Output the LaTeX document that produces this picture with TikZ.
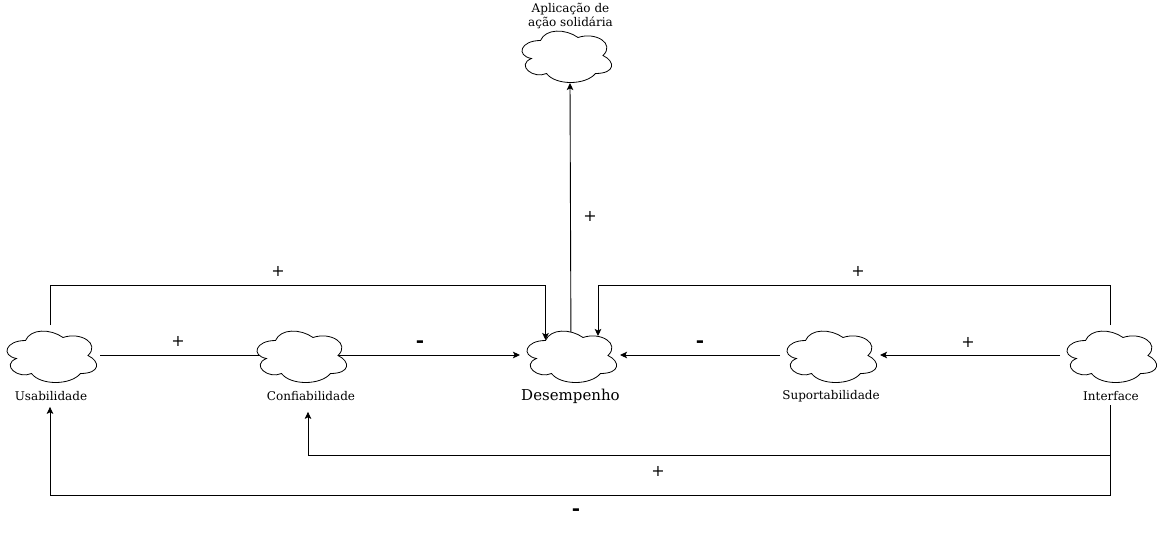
\documentclass[tikz,border=0pt]{standalone}
\usepackage{fontspec}
\setmainfont{DejaVu Serif}
\usetikzlibrary{arrows.meta}
\newcommand{\cloudoutline}[1]{%
  \draw[cloudline,shift={([xshift=.5pt,yshift=-.5pt]#1.north west)}] (25,15) .. controls (5,15) and (0,30) .. (16,33)
        .. controls (0,39.6) and (18,54) .. (31,48)
        .. controls (40,60) and (70,60) .. (80,48)
        .. controls (100,48) and (100,36) .. (87.5,30)
        .. controls (100,18) and (80,6) .. (62.5,12)
        .. controls (50,3) and (30,3) .. (25,15) -- cycle;}
\tikzset{
  x=1pt,y=-1pt,
  cloudbox/.style={minimum width=100pt,minimum height=60pt,inner sep=0pt,outer sep=0pt},
  cloudline/.style={line width=0.8pt,fill=white},
  caption/.style={font=\fontsize{12}{14}\selectfont,inner sep=0pt,align=center},
  sign/.style={font=\fontsize{16}{16}\selectfont,inner sep=0pt},
  minus/.style={font=\fontsize{20}{20}\selectfont\bfseries,inner sep=0pt},
  conn/.style={line width=0.9pt,-{Stealth[length=7pt,width=6.5pt,inset=1.5pt]}},
}
\begin{document}
\begin{tikzpicture}
\useasboundingbox (0,0) rectangle (1161,536);
\node[cloudbox] (u) at (50,355) {};
\node[cloudbox] (c) at (300,355) {};
\node[cloudbox] (d) at (570,355) {};
\node[cloudbox] (s) at (830,355) {};
\node[cloudbox] (i) at (1110,355) {};
\node[cloudbox] (a) at (565,55) {};
\node[caption] (ut) at (51,396) {Usabilidade};
\node[caption] (ct) at (311,396) {Confiabilidade};
\node[caption,font=\fontsize{15}{16}\selectfont] (dt) at (570.5,396.5) {Desempenho};
\node[caption] (st) at (831,396) {Suportabilidade};
\node[caption] (it) at (1111,396) {Interface};
\node[caption] (at) at (570.5,16) {Aplicação de\\ação solidária};
\draw[line width=0.9pt] (u.east) -- (c.center);
\draw[conn] (c.center) -- (d.west);
\draw[conn] (s.west) -- (d.east);
\draw[conn] (i.west) -- (s.east);
\draw[conn] ([xshift=1pt]d.center) -- ([xshift=5pt,yshift=2pt]a.south);
\cloudoutline{u}
\cloudoutline{c}
\cloudoutline{d}
\cloudoutline{s}
\cloudoutline{i}
\cloudoutline{a}
\draw[conn] (u.north) -- (50,285.5) -- (545.5,285.5) -- ([xshift=-24.5pt,yshift=15pt]d.center);
\draw[conn] (i.north) -- (1110,285.5) -- (598,285.5) -- ([xshift=28pt,yshift=19pt]d.center);
\draw[conn] ([xshift=-1pt,yshift=-4.5pt]it.south) -- (1110,455.5) -- (308,455.5) -- ([xshift=-3pt,yshift=-11pt]ct.south);
\draw[conn] ([xshift=-1pt,yshift=-4.5pt]it.south) -- (1110,495.5) -- (50,495.5) -- ([xshift=-1pt,yshift=-6pt]ut.south);
\node[sign] (p1) at (278,271) {+};
\node[sign] (p2) at (178,341) {+};
\node[sign] (p3) at (590,216) {+};
\node[sign] (p4) at (858,271) {+};
\node[sign] (p5) at (968,342) {+};
\node[sign] (p6) at (658,471) {+};
\node[minus] (m1) at (420,344) {-};
\node[minus] (m2) at (700,344) {-};
\node[minus] (m3) at (576,512) {-};
\end{tikzpicture}
\end{document}
